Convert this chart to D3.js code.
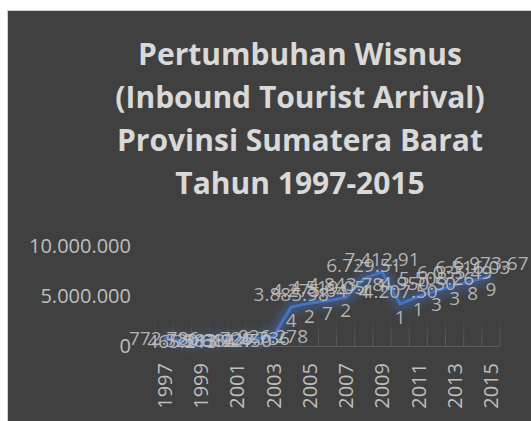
<!DOCTYPE html>
<html lang="en">
<head>
  <meta charset="UTF-8">
  <title>Pertumbuhan Wisnus</title>
  <style>
    * {
      margin: 0;
      padding: 0;
    }
    body {
      background: #fff;
    }
  </style>
</head>
<body>
  <script src="https://d3js.org/d3.v7.min.js"></script>
  <script>
    const width = 531;
    const height = 421;

    const titleLines = [
      'Pertumbuhan Wisnus',
      '(Inbound Tourist Arrival)',
      'Provinsi Sumatera Barat',
      'Tahun 1997-2015',
    ]
    const years = ['1997', '1998', '1999', '2000', '2001', '2002', '2003', '2004', '2005', '2006',
      '2007', '2008', '2009', '2010', '2011', '2012', '2013', '2014', '2015']
    const arrivals = [772786, 465213, 520384, 583927, 612450, 726736, 926278, 3885984, 4275642, 4519057,
      4843782, 6729514, 7412911, 4207501, 4950501, 5508263, 6035493, 6516038, 6973679]
    const yTicks = [0, 5000000, 10000000]
    const xTickLabels = ['1997', '1999', '2001', '2003', '2005', '2007', '2009', '2011', '2013', '2015']

    const plot = { left: 155, right: 500, top: 246, bottom: 346 }
    const bg = '#404040'
    const textColor = '#bfbfbf'
    const lineColor = '#4472c4'

    const locale = d3.formatLocale({ decimal: ',', thousands: '.', grouping: [3], currency: ['', ''] })
    const fmt = locale.format(',d')

    const svg = d3.select('body')
      .append('svg')
      .attr('width', width)
      .attr('height', height)
      .style('display', 'block')

    const defs = svg.append('defs')
    defs.append('filter')
      .attr('id', 'glow')
      .attr('x', '-20%').attr('y', '-50%')
      .attr('width', '140%').attr('height', '200%')
      .append('feGaussianBlur')
      .attr('stdDeviation', 5)

    const grad = defs.append('linearGradient')
      .attr('id', 'fade')
      .attr('x1', 0).attr('y1', 0).attr('x2', 0).attr('y2', 1)
    grad.append('stop').attr('offset', '0%').attr('stop-color', '#5a5a5a').attr('stop-opacity', 0)
    grad.append('stop').attr('offset', '100%').attr('stop-color', '#5e5e5e').attr('stop-opacity', 1)

    // chart area with thin frame
    svg.append('rect')
      .attr('x', 7.5)
      .attr('y', 10.5)
      .attr('width', width - 7)
      .attr('height', height - 10)
      .attr('fill', bg)
      .attr('stroke', '#d0d0d0')
      .attr('stroke-width', 1)

    // title
    svg.append('g')
      .selectAll('text')
      .data(titleLines)
      .enter()
      .append('text')
      .attr('x', 300)
      .attr('y', (d, i) => 65 + i * 43)
      .attr('text-anchor', 'middle')
      .attr('font-family', '"Open Sans", sans-serif')
      .attr('font-weight', 'bold')
      .attr('font-size', 30)
      .attr('fill', '#d9d9d9')
      .text(d => d)

    const xScale = d3.scalePoint()
      .domain(years)
      .range([plot.left, plot.right])
      .padding(0.5)

    const yScale = d3.scaleLinear()
      .domain([0, 10000000])
      .range([plot.bottom, plot.top])

    // faint drop lines between categories
    const step = xScale.step()
    const bounds = d3.range(years.length + 1).map(i => plot.left + i * step)
    svg.append('g')
      .selectAll('rect')
      .data(bounds)
      .enter()
      .append('rect')
      .attr('x', d => d - 0.5)
      .attr('y', yScale(3200000))
      .attr('width', 1)
      .attr('height', yScale(0) - yScale(3200000))
      .attr('fill', 'url(#fade)')

    // y axis
    const yAxis = d3.axisLeft(yScale)
      .tickValues(yTicks)
      .tickSize(0)
      .tickPadding(24)
      .tickFormat(fmt)
    const gy = svg.append('g')
      .attr('transform', `translate(${plot.left}, 0)`)
      .call(yAxis)
    gy.select('.domain').remove()
    gy.selectAll('text')
      .attr('font-family', '"Open Sans", sans-serif')
      .attr('font-size', 20)
      .attr('fill', textColor)

    // x axis
    const xAxis = d3.axisBottom(xScale)
      .tickValues(xTickLabels)
      .tickSize(0)
      .tickPadding(0)
    const gx = svg.append('g')
      .attr('transform', `translate(0, ${plot.bottom})`)
      .call(xAxis)
    gx.select('.domain')
      .attr('d', `M${plot.left},0.5H${plot.right}`)
      .attr('stroke', '#5e5e5e')
    gx.selectAll('text')
      .attr('font-family', '"Open Sans", sans-serif')
      .attr('font-size', 20)
      .attr('fill', textColor)
      .attr('text-anchor', 'end')
      .attr('dy', '0.35em')
      .attr('transform', 'translate(0, 17) rotate(-90)')
      .attr('y', 0)
      .attr('x', 0)

    // line with glow
    const line = d3.line()
      .x((d, i) => xScale(years[i]))
      .y(d => yScale(d))

    svg.append('path')
      .datum(arrivals)
      .attr('d', line)
      .attr('fill', 'none')
      .attr('stroke', lineColor)
      .attr('stroke-width', 12)
      .attr('stroke-opacity', 0.45)
      .attr('stroke-linejoin', 'round')
      .attr('filter', 'url(#glow)')

    svg.append('path')
      .datum(arrivals)
      .attr('d', line)
      .attr('fill', 'none')
      .attr('stroke', lineColor)
      .attr('stroke-width', 3)
      .attr('stroke-linejoin', 'round')

    // data labels, wrapped like the spreadsheet does when they are too wide
    const labelSize = 19
    const maxLabelWidth = 78
    const measure = svg.append('text')
      .attr('font-family', '"Open Sans", sans-serif')
      .attr('font-size', labelSize)
      .attr('visibility', 'hidden')
    const wrap = s => {
      const lines = []
      let cur = ''
      for (const ch of s) {
        measure.text(cur + ch)
        if (cur && measure.node().getComputedTextLength() > maxLabelWidth) {
          lines.push(cur)
          cur = ch
        } else {
          cur += ch
        }
      }
      lines.push(cur)
      return lines
    }

    const lineHeight = 26
    const labels = svg.append('g')
      .selectAll('text')
      .data(arrivals)
      .enter()
      .append('text')
      .attr('font-family', '"Open Sans", sans-serif')
      .attr('font-size', labelSize)
      .attr('fill', textColor)
      .attr('fill-opacity', 0.92)
      .attr('text-anchor', 'middle')

    labels.each(function (d, i) {
      const parts = wrap(fmt(d))
      const x = xScale(years[i])
      const y0 = yScale(d) - (parts.length - 1) * lineHeight / 2
      d3.select(this)
        .selectAll('tspan')
        .data(parts)
        .enter()
        .append('tspan')
        .attr('x', x)
        .attr('y', (p, j) => y0 + j * lineHeight)
        .attr('dy', '0.35em')
        .text(p => p)
    })
    measure.remove()
  </script>
</body>
</html>
